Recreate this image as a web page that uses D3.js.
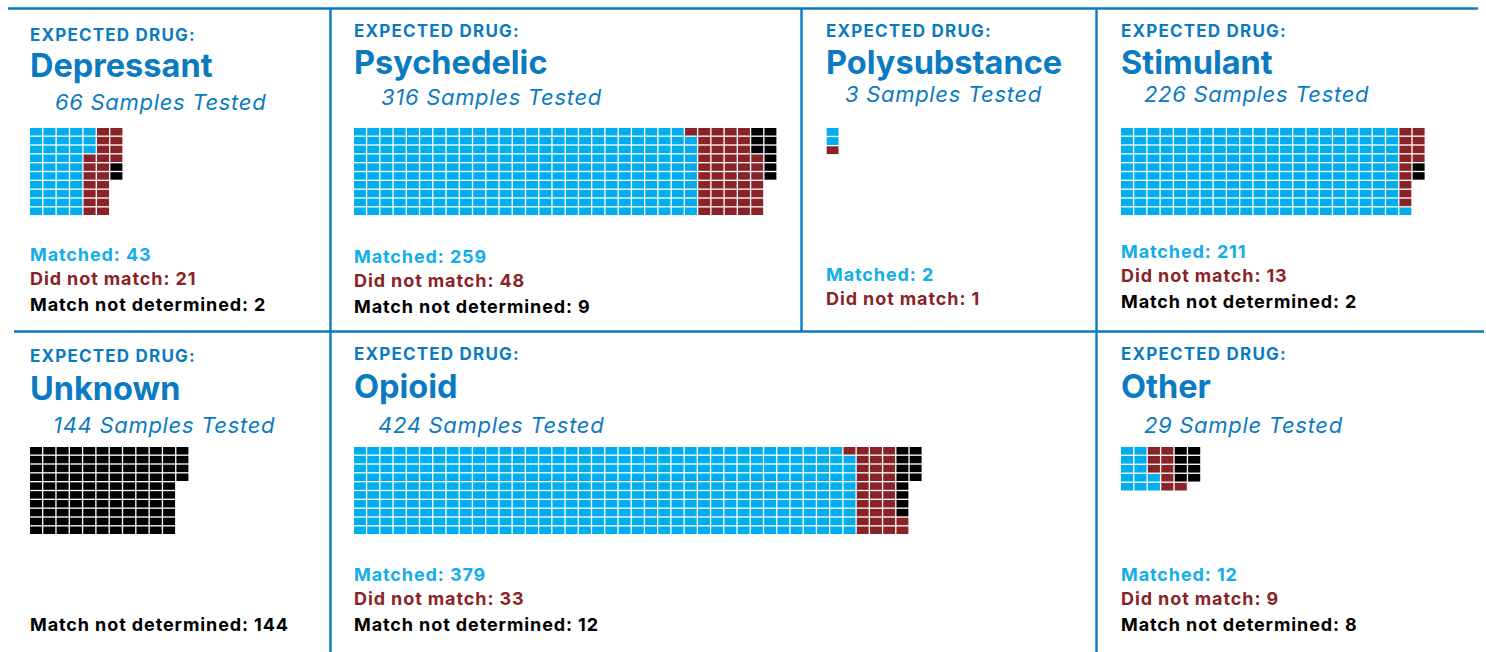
<!DOCTYPE html>
<html lang="en">
<head>
  <title>Expected drug vs test result</title>
  <meta charset="UTF-8">
  <style>
    body { margin: 0; background: #fff; }
    svg text { font-family: Inter, Roboto, sans-serif; }
  </style>
  <script src="https://cdn.jsdelivr.net/npm/d3@7/dist/d3.min.js"></script>
</head>
<body>
<script>
  // data, one entry per panel
  var drugs = ["Depressant", "Psychedelic", "Polysubstance", "Stimulant", "Unknown", "Opioid", "Other"];
  var testedLabels = ["66 Samples Tested", "316 Samples Tested", "3 Samples Tested", "226 Samples Tested",
                      "144 Samples Tested", "424 Samples Tested", "29 Sample Tested"];
  var matched = [43, 259, 2, 211, 0, 379, 12];
  var notMatched = [21, 48, 1, 13, 0, 33, 9];
  var undetermined = [2, 9, 0, 2, 114, 12, 8];          // cells drawn
  var undeterminedLabel = [2, 9, 0, 2, 144, 12, 8];     // number printed under the waffle

  var categories = ["matched", "notMatched", "undetermined"];
  var catNames = ["Matched", "Did not match", "Match not determined"];

  var W = 1486, H = 652;
  var blue = "#0b7bc1";
  var colors = d3.scaleOrdinal().domain(categories).range(["#00adee", "#8a2328", "#000000"]);
  var textColors = d3.scaleOrdinal().domain(categories).range(["#12aeea", "#8a2328", "#000000"]);

  // panel placement
  var layout = [
    {x: 30,   ix: 55,   ed: 40.5, title: 77,  sub: 110, gy: 128, lab: 261, rows: 10, dir: "down"},
    {x: 354,  ix: 381,  ed: 36.5, title: 74,  sub: 105, gy: 128, lab: 263, rows: 10, dir: "up"},
    {x: 826,  ix: 845,  ed: 36.5, title: 74,  sub: 102, gy: 128, lab: 281, rows: 3,  dir: "down"},
    {x: 1121, ix: 1144, ed: 36.5, title: 74,  sub: 102, gy: 128, lab: 258, rows: 10, dir: "up"},
    {x: 30,   ix: 53,   ed: 362,  title: 400, sub: 433, gy: 447, lab: 581, rows: 10, dir: "up"},
    {x: 354,  ix: 378,  ed: 360,  title: 398, sub: 433, gy: 447, lab: 581, rows: 10, dir: "up"},
    {x: 1121, ix: 1144, ed: 360,  title: 398, sub: 433, gy: 447, lab: 581, rows: 5,  dir: "up"}
  ];
  var colStep = 13.2, rowStep = 8.7;
  var lineOffsets = [0, 24, 50];

  var svg = d3.select("body").append("svg").attr("width", W).attr("height", H);

  // frame lines
  var frame = [
    [8, 8.5, 1478, 8.5],
    [14, 331.5, 1484, 331.5],
    [330.5, 8, 330.5, 652],
    [1096.5, 8, 1096.5, 652],
    [801.5, 8, 801.5, 331]
  ];
  svg.append("g").selectAll("line")
    .data(frame)
    .enter().append("line")
    .attr("x1", function(d) { return d[0]; })
    .attr("y1", function(d) { return d[1]; })
    .attr("x2", function(d) { return d[2]; })
    .attr("y2", function(d) { return d[3]; })
    .attr("stroke", blue)
    .attr("stroke-width", 2.4);

  drugs.forEach(function(drug, p) {
    var L = layout[p];
    var counts = [matched[p], notMatched[p], undetermined[p]];
    var labelCounts = [matched[p], notMatched[p], undeterminedLabel[p]];
    var n = d3.sum(counts);
    var rows = L.rows;
    var cols = Math.ceil(n / rows);
    var lastFull = Math.floor(n / rows);

    // one cell per sample, in category order
    var cells = [];
    categories.forEach(function(c, k) {
      d3.range(counts[k]).forEach(function() { cells.push(c); });
    });

    var x = d3.scaleBand().domain(d3.range(cols)).range([0, cols * colStep]).paddingInner(0.1);
    var y = d3.scaleBand().domain(d3.range(rows)).range([0, rows * rowStep]).paddingInner(0.15);

    var g = svg.append("g");

    g.append("text")
      .attr("x", L.x).attr("y", L.ed)
      .attr("fill", blue)
      .style("font-size", "17px").style("font-weight", 700)
      .style("letter-spacing", "1.2px")
      .text("EXPECTED DRUG:");

    g.append("text")
      .attr("x", L.x).attr("y", L.title)
      .attr("fill", blue)
      .style("font-size", "32.5px").style("font-weight", 700)
      .text(drug);

    g.append("text")
      .attr("x", L.ix).attr("y", L.sub)
      .attr("fill", blue)
      .style("font-size", "22px").style("font-style", "italic").style("font-weight", 400)
      .style("letter-spacing", "0.7px")
      .text(testedLabels[p]);

    var grid = g.append("g").attr("transform", "translate(" + L.x + "," + L.gy + ")");
    grid.selectAll("rect")
      .data(cells)
      .enter().append("rect")
      .attr("x", function(d, i) { return x(Math.floor(i / rows)); })
      .attr("y", function(d, i) {
        var c = Math.floor(i / rows), r = i % rows;
        var down = L.dir === "down" || c >= lastFull;
        return y(down ? r : rows - 1 - r);
      })
      .attr("width", x.bandwidth())
      .attr("height", y.bandwidth())
      .attr("fill", function(d) { return colors(d); });

    categories.forEach(function(c, k) {
      if (!labelCounts[k]) return;
      g.append("text")
        .attr("x", L.x).attr("y", L.lab + lineOffsets[k])
        .attr("fill", textColors(c))
        .style("font-size", "18px").style("font-weight", 700)
        .style("letter-spacing", "0.9px")
        .text(catNames[k] + ": " + labelCounts[k]);
    });
  });
</script>
</body>
</html>
